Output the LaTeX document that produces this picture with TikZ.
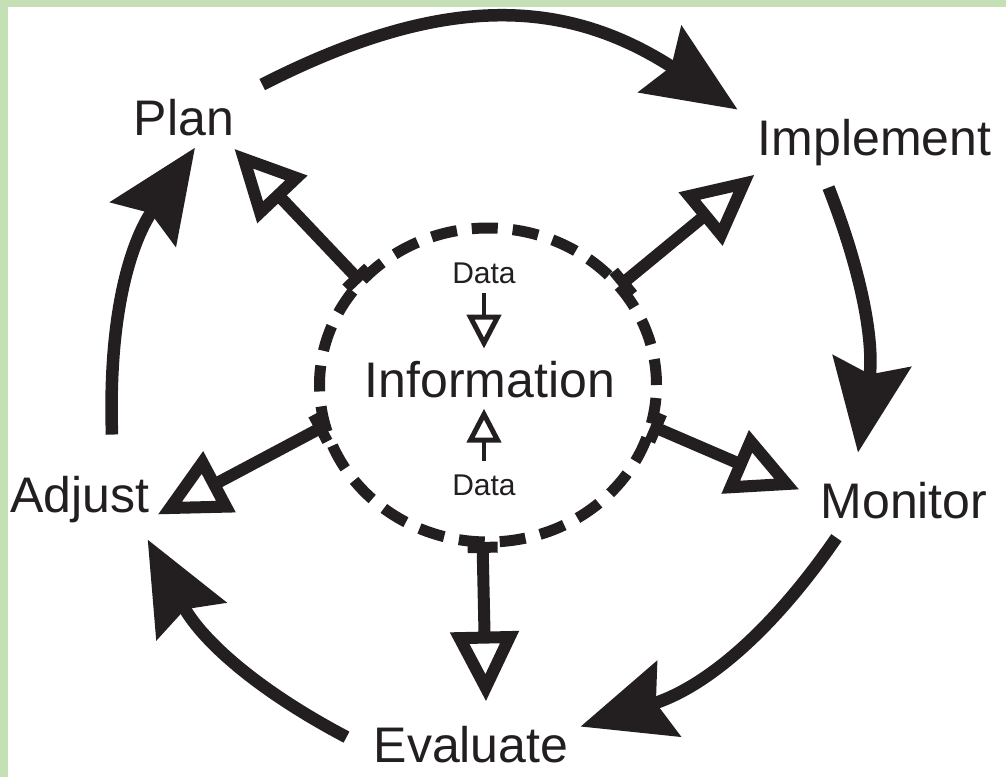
\documentclass[tikz,border=0pt]{standalone}
\usepackage{fontspec}
\setsansfont{Liberation Sans}
\usetikzlibrary{positioning, shapes.geometric, arrows.meta}
\definecolor{pdcaInk}{HTML}{231F20}
\definecolor{pdcaFrame}{HTML}{C5E0B4}
\tikzset{
    pdcaLabel/.style={
        font=\fontsize{50}{60}\selectfont\sffamily,
        text=pdcaInk,
        inner sep=0pt,
        anchor=base
    },
    pdcaSmall/.style={pdcaLabel, font=\fontsize{30}{36}\selectfont\sffamily},
    % dashed information pool in the middle
    pdcaRing/.style={
        ellipse,
        draw=pdcaInk,
        line width=11pt,
        dash pattern=on 26pt off 15pt,
        minimum width=337pt,
        minimum height=314pt,
        inner sep=0pt,
        outer sep=0pt
    },
    % Arrows
    cycleArrow/.style={draw=pdcaInk, line width=12.5pt, -{Stealth[length=92pt, width=78pt, inset=13pt]}},
    feedArrow/.style={draw=pdcaInk, line width=12pt, {Rectangle[length=11pt, width=30pt]}-{Triangle[open, length=70pt, width=66pt, line width=12pt]}},
    dataArrow/.style={draw=pdcaInk, line width=4pt, -{Triangle[open, length=34pt, width=34pt, line width=5pt]}}
}
\begin{document}
\begin{tikzpicture}[x=1pt, y=1pt]
% canvas with the green frame on two sides
\useasboundingbox (-488,-392) rectangle (518,385);
\fill[white] (-488,-392) rectangle (518,385);
\fill[pdcaFrame] (-488,-392) rectangle (-480,385);
\fill[pdcaFrame] (-488,378) rectangle (518,385);

\node[pdcaRing] (ring) at (0,0) {};
\node[pdcaLabel] (info) at (2,-12) {Information};
\node[pdcaSmall] (dataIn) at (-4,102) {Data};
\node[pdcaSmall] (dataOut) at (-4,-110) {Data};

\node[pdcaLabel] (plan) at (-304,250) {Plan};
\node[pdcaLabel] (implement) at (386.5,230) {Implement};
\node[pdcaLabel] (monitor) at (416,-133) {Monitor};
\node[pdcaLabel] (evaluate) at (-17,-377) {Evaluate};
\node[pdcaLabel] (adjust) at (-408,-127) {Adjust};

% data feeding the pool
\draw[dataArrow, shorten <=10pt, shorten >=12pt] (dataIn.south) -- (dataIn.south |- info.north);
\draw[dataArrow, shorten <=13pt, shorten >=11pt] (dataOut.north) -- (dataOut.north |- info.south);

% pool informs every stage
\draw[feedArrow] (ring.141) -- ([yshift=-13pt]plan.south east);
\draw[feedArrow] (ring.37) -- ([shift={(-3pt,-9pt)}]implement.south west);
\draw[feedArrow] (ring.346) -- ([shift={(-21pt,-8pt)}]monitor.north west);
\draw[feedArrow] (ring.268) -- ([shift={(15pt,24pt)}]evaluate.north);
\draw[feedArrow] (ring.194) -- ([shift={(8pt,8pt)}]adjust.south east);

% outer cycle
\draw[cycleArrow] ([shift={(28pt,14pt)}]plan.north east) to[bend left=30, looseness=1.1] ([shift={(-20pt,9pt)}]implement.north west);
\draw[cycleArrow] ([shift={(-46pt,-22pt)}]implement.south) to[bend left=15] ([shift={(-46pt,29pt)}]monitor.north);
\draw[cycleArrow] ([shift={(16pt,-19pt)}]monitor.south west) to[bend left=19] ([shift={(12pt,-1pt)}]evaluate.north east);
\draw[cycleArrow] ([shift={(-27pt,7pt)}]evaluate.west) to[bend left=17] ([shift={(-2pt,-17pt)}]adjust.south east);
\draw[cycleArrow] ([shift={(32pt,41pt)}]adjust.north) to[bend left=18] ([shift={(11pt,-12pt)}]plan.south);
\end{tikzpicture}
\end{document}
